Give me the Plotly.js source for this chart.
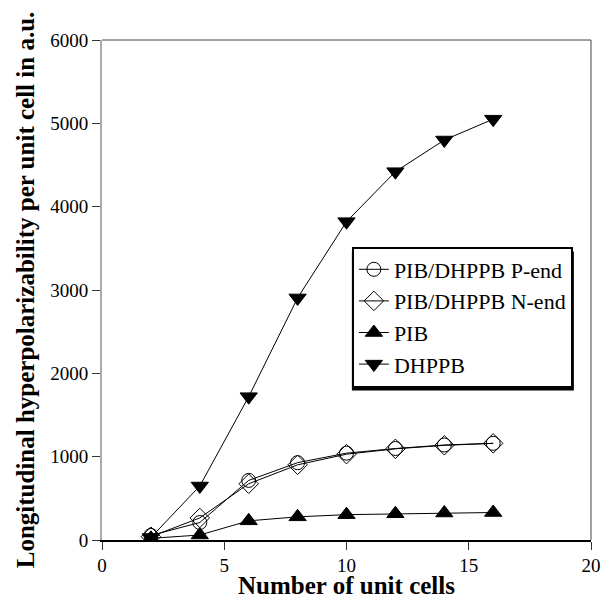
<!DOCTYPE html>
<html><head><meta charset="utf-8">
<script src="https://cdn.plot.ly/plotly-3.0.1.min.js"></script>
<style>
html,body{margin:0;padding:0;background:#fff}
#c{width:616px;height:599px}
#c svg text{font-family:'Liberation Serif',serif !important}
</style>
</head><body><div id="c"></div>
<script>
const cells = [2, 4, 6, 8, 10, 12, 14, 16];
const pEnd = [55, 210, 715, 928, 1042, 1098, 1140, 1160];
const nEnd = [40, 265, 675, 902, 1030, 1094, 1136, 1160];
const pib = [20, 60, 230, 278, 304, 315, 324, 330];
const dhppb = [30, 648, 1720, 2905, 3820, 4420, 4800, 5050];
const names = ['PIB/DHPPB P-end', 'PIB/DHPPB N-end', 'PIB', 'DHPPB'];

const F = 'Liberation Serif';
function tr(y, name, sym, size) {
  return {x: cells, y: y, name: name, type: 'scatter', mode: 'lines+markers',
    line: {color: '#000', width: 1},
    marker: {symbol: sym, size: size, color: '#000', line: {color: '#000', width: 1}}};
}
const data = [
  tr(pEnd, names[0], 'circle-open', 14),
  tr(nEnd, names[1], 'diamond-open', 15),
  tr(pib, names[2], 'triangle-up', 15),
  tr(dhppb, names[3], 'triangle-down', 15)
];
const layout = {
  width: 616, height: 599,
  margin: {l: 102, r: 25, t: 40, b: 59},
  showlegend: true,
  font: {family: F, size: 18, color: '#000'},
  legend: {x: 0.511, y: 0.446, xanchor: 'left', yanchor: 'middle',
    bgcolor: '#fff', bordercolor: '#000', borderwidth: 2,
    font: {family: F, size: 22}},
  xaxis: {range: [0, 20], dtick: 5, showgrid: false, zeroline: false,
    showline: true, linecolor: '#000', linewidth: 1.5,
    ticks: 'outside', ticklen: 8, tickcolor: '#333', tickwidth: 1,
    tickfont: {family: F, size: 19},
    title: {text: '<b>Number of unit cells</b>', font: {family: F, size: 25}, standoff: 6}},
  yaxis: {range: [0, 6000], dtick: 1000, showgrid: false, zeroline: false,
    showline: true, linecolor: '#aaa', linewidth: 2,
    ticks: 'outside', ticklen: 8, tickcolor: '#333', tickwidth: 1,
    tickfont: {family: F, size: 19},
    title: {text: '<b>Longitudinal hyperpolarizability per unit cell in a.u.</b>', font: {family: F, size: 25}, standoff: 8}},
  shapes: [
    {type: 'line', xref: 'paper', yref: 'paper', x0: 0, x1: 1, y0: 1, y1: 1, line: {color: '#444', width: 1}},
    {type: 'line', xref: 'paper', yref: 'paper', x0: 1, x1: 1, y0: 0, y1: 1, line: {color: '#444', width: 1}}
  ]
};
Plotly.newPlot('c', data, layout, {staticPlot: true}).then(function (gd) {
  const bg = gd.querySelector('.legend rect.bg');
  if (!bg) return;
  const x = parseFloat(bg.getAttribute('x')) || 0;
  const y = parseFloat(bg.getAttribute('y')) || 0;
  const w = parseFloat(bg.getAttribute('width'));
  const h = parseFloat(bg.getAttribute('height'));
  const sh = document.createElementNS('http://www.w3.org/2000/svg', 'rect');
  sh.setAttribute('x', x - 1);
  sh.setAttribute('y', y + 4);
  sh.setAttribute('width', w + 3);
  sh.setAttribute('height', h);
  sh.setAttribute('fill', '#000');
  bg.parentNode.insertBefore(sh, bg);
});
</script></body></html>
